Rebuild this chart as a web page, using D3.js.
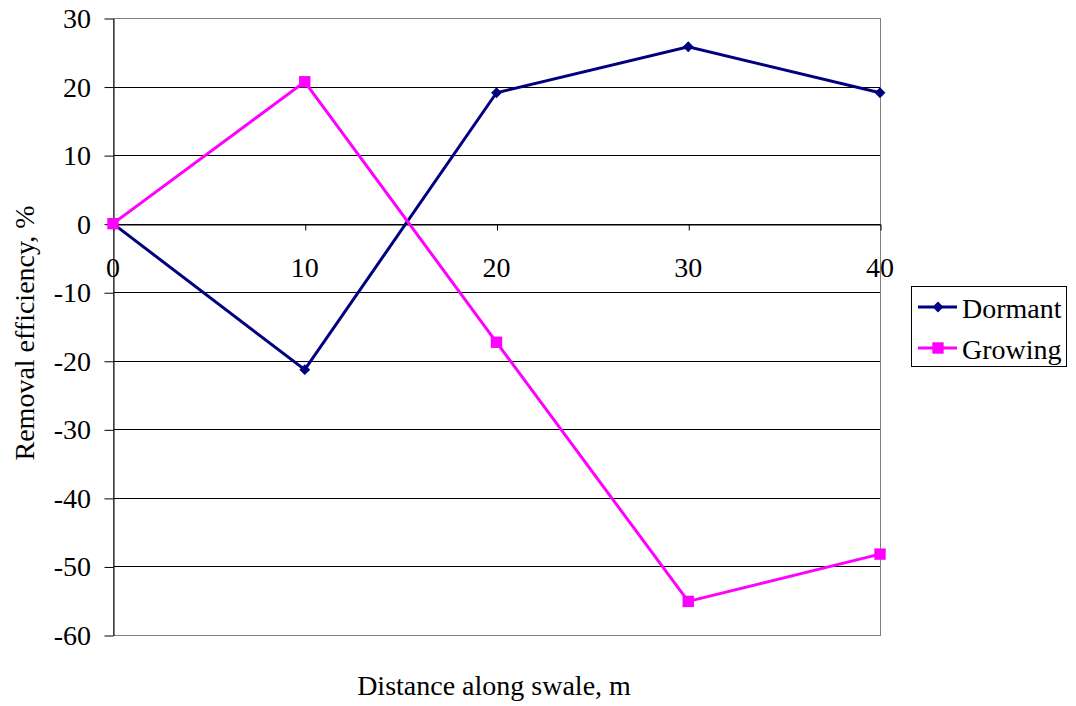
<!DOCTYPE html>
<html>
<head>
<meta charset="utf-8">
<script src="https://cdn.jsdelivr.net/npm/d3@7"></script>
<style>
  @font-face {
    font-family: 'ChartSerif';
    src: local('Liberation Serif'), local('LiberationSerif'), local('Liberation Serif Regular'), local('LiberationSerif-Regular');
  }
</style>
</head>
<body style="margin:0">
<script>
// data
const distances = [0, 10, 20, 30, 40];
const dormant = [0, -21.3, 19.1, 25.8, 19.1];
const growing = [0, 20.7, -17.3, -55.1, -48.2];
const yTicks = [30, 20, 10, 0, -10, -20, -30, -40, -50, -60];
const xTicks = [0, 10, 20, 30, 40];

const width = 1076, height = 706;
const plot = {left: 113, right: 880, top: 18, bottom: 635};
const serif = 'Liberation Serif';
const fontSize = 28;

const svg = d3.select('body').append('svg')
  .attr('width', width)
  .attr('height', height);

let x = d3.scaleLinear().domain([0, 40]).range([plot.left, plot.right]);
let y = d3.scaleLinear().domain([-60, 30]).range([plot.bottom, plot.top]);

function serifText(sel) {
  sel.attr('font-size', fontSize)
    .attr('fill', '#000')
    .style('font-family', serif);
}

// gridlines
svg.append('g').selectAll('line').data(yTicks)
  .enter().append('line')
  .attr('x1', plot.left).attr('x2', plot.right)
  .attr('y1', d => Math.round(y(d)) + 0.5).attr('y2', d => Math.round(y(d)) + 0.5)
  .attr('stroke', '#000').attr('stroke-width', 1);

// plot border
svg.append('rect')
  .attr('x', plot.left + 0.5).attr('y', plot.top + 0.5)
  .attr('width', plot.right - plot.left).attr('height', plot.bottom - plot.top)
  .attr('fill', 'none').attr('stroke', '#808080');

// y axis: line and ticks from d3, labels drawn as plain texts
let yAxis = svg.append('g')
  .attr('transform', `translate(${plot.left + 0.5},0.5)`)
  .call(d3.axisLeft(y).tickValues(yTicks).tickFormat('').tickSize(9).tickSizeOuter(0))
  .call(g => g.select('.domain').attr('stroke', '#000'));
yAxis.selectAll('text').remove();

svg.append('g').selectAll('text').data(yTicks)
  .enter().append('text')
  .attr('x', plot.left - 22)
  .attr('y', d => y(d) + 10)
  .attr('text-anchor', 'end')
  .text(d => String(d))
  .call(serifText);

// x axis at zero
let xAxis = svg.append('g')
  .attr('transform', `translate(0.5,${Math.round(y(0)) + 0.5})`)
  .call(d3.axisBottom(x).tickValues(xTicks).tickFormat('').tickSize(6).tickSizeOuter(0))
  .call(g => g.select('.domain').attr('stroke', '#000'));
xAxis.selectAll('text').remove();

svg.append('g').selectAll('text').data(xTicks)
  .enter().append('text')
  .attr('x', d => x(d))
  .attr('y', y(0) + 53)
  .attr('text-anchor', 'middle')
  .text(d => String(d))
  .call(serifText);

// series
const series = [
  {name: 'Dormant', values: dormant, color: '#000080', marker: 'diamond'},
  {name: 'Growing', values: growing, color: '#FF00FF', marker: 'square'}
];

const line = d3.line()
  .x((d, i) => x(distances[i]))
  .y(d => y(d));

function markerPath(type) {
  if (type === 'diamond') return d3.symbol().type(d3.symbolDiamond2).size(75)();
  return d3.symbol().type(d3.symbolSquare2).size(165)();
}

series.forEach(s => {
  svg.append('path')
    .datum(s.values)
    .attr('d', line)
    .attr('fill', 'none')
    .attr('stroke', s.color)
    .attr('stroke-width', 3);
});

series.forEach(s => {
  svg.append('g').selectAll('path').data(s.values)
    .enter().append('path')
    .attr('d', markerPath(s.marker))
    .attr('transform', (d, i) => `translate(${x(distances[i])},${y(d)})`)
    .attr('fill', s.color);
});

// axis titles
svg.append('text')
  .attr('x', 494).attr('y', 695)
  .attr('text-anchor', 'middle')
  .text('Distance along swale, m')
  .call(serifText);

svg.append('text')
  .attr('transform', 'translate(34,333) rotate(-90)')
  .attr('text-anchor', 'middle')
  .text('Removal efficiency, %')
  .call(serifText);

// legend
let legend = svg.append('g').attr('transform', 'translate(911,286)');
legend.append('rect')
  .attr('x', 0.5).attr('y', 0.5)
  .attr('width', 155).attr('height', 80)
  .attr('fill', '#fff').attr('stroke', '#000');

series.forEach((s, i) => {
  let ly = 21 + i * 41;
  legend.append('line')
    .attr('x1', 7).attr('x2', 46)
    .attr('y1', ly).attr('y2', ly)
    .attr('stroke', s.color).attr('stroke-width', 3);
  legend.append('path')
    .attr('d', markerPath(s.marker))
    .attr('transform', `translate(27,${ly})`)
    .attr('fill', s.color);
  legend.append('text')
    .attr('x', 51).attr('y', ly + 11)
    .text(s.name)
    .call(serifText);
});
</script>
</body>
</html>
